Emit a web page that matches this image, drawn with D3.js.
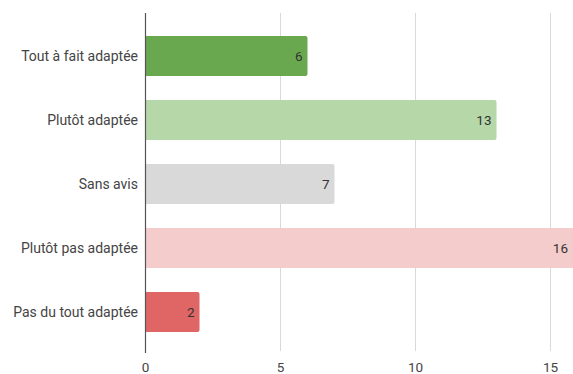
<!DOCTYPE html>
<html>
<head>
<meta charset="utf-8">
<script src="https://cdn.jsdelivr.net/npm/d3@7"></script>
<style>
  body { margin: 0; background: #fff; }
  text { font-family: Roboto, "Noto Sans", sans-serif; }
</style>
</head>
<body>
<div id="chart"></div>
<script>
// data
var categories = ["Tout à fait adaptée", "Plutôt adaptée", "Sans avis", "Plutôt pas adaptée", "Pas du tout adaptée"];
var values = [6, 13, 7, 16, 2];
var barColors = ["#6aa84f", "#b6d7a8", "#d9d9d9", "#f4cccc", "#e06666"];
var xTicks = [0, 5, 10, 15];

var svgWidth = 573, svgHeight = 374;

var svg = d3.select("#chart").append("svg")
  .attr("width", svgWidth)
  .attr("height", svgHeight);

// 0 at 145.5, 27px per unit
var x = d3.scaleLinear().domain([0, 15]).range([145.5, 550.5]);
var y = d3.scaleBand().domain(categories).range([24, 344]).paddingInner(0.375).paddingOuter(0.1875);

// gridlines
svg.append("g").selectAll("line")
  .data(xTicks.filter(d => d > 0))
  .enter().append("line")
  .attr("x1", d => x(d)).attr("x2", d => x(d))
  .attr("y1", 13).attr("y2", 351)
  .attr("stroke", "#d9d9d9")
  .attr("stroke-width", 1);

// clip for bars beyond the window edge
svg.append("clipPath").attr("id", "clip")
  .append("rect").attr("x", 0).attr("y", 0).attr("width", svgWidth).attr("height", svgHeight);

// bars with small rounded right end
var bars = svg.append("g").attr("clip-path", "url(#clip)");
bars.selectAll("path")
  .data(values)
  .enter().append("path")
  .attr("fill", (d, i) => barColors[i])
  .attr("d", function(d, i) {
    var x0 = x(0), x1 = x(d), y0 = y(categories[i]), h = y.bandwidth(), r = 2;
    return `M${x0},${y0}H${x1 - r}Q${x1},${y0} ${x1},${y0 + r}V${y0 + h - r}Q${x1},${y0 + h} ${x1 - r},${y0 + h}H${x0}Z`;
  });

// value labels inside bars
svg.append("g").selectAll("text")
  .data(values)
  .enter().append("text")
  .attr("x", d => Math.min(x(d), svgWidth) - 5)
  .attr("y", (d, i) => y(categories[i]) + y.bandwidth() / 2)
  .attr("dy", "0.35em")
  .attr("text-anchor", "end")
  .attr("font-size", 13.5)
  .attr("fill", "#333")
  .text(d => d);

// category labels
svg.append("g").selectAll("text")
  .data(categories)
  .enter().append("text")
  .attr("x", 138)
  .attr("y", d => y(d) + y.bandwidth() / 2)
  .attr("dy", "0.35em")
  .attr("text-anchor", "end")
  .attr("font-size", 14)
  .attr("fill", "#444")
  .text(d => d);

// zero axis line
svg.append("line")
  .attr("x1", x(0)).attr("x2", x(0))
  .attr("y1", 13).attr("y2", 353)
  .attr("stroke", "#555")
  .attr("stroke-width", 1.2);

// x tick labels
svg.append("g").selectAll("text")
  .data(xTicks)
  .enter().append("text")
  .attr("x", d => x(d))
  .attr("y", 372)
  .attr("text-anchor", "middle")
  .attr("font-size", 13.5)
  .attr("fill", "#444")
  .text(d => d);
</script>
</body>
</html>
